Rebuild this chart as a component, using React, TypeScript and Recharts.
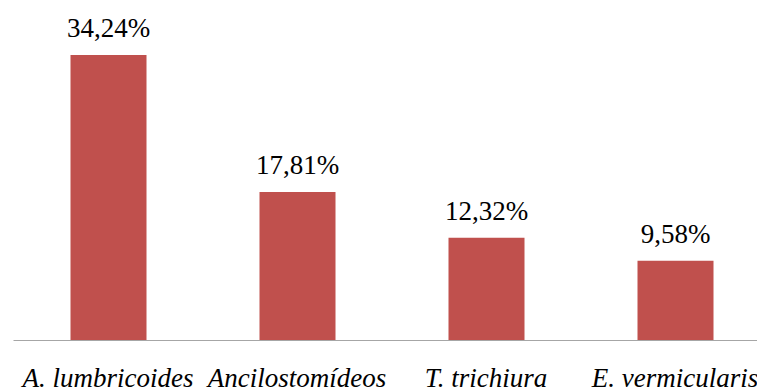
import { BarChart, Bar, XAxis, YAxis, LabelList } from "recharts";

const species = [
  "A. lumbricoides",
  "Ancilostomídeos",
  "T. trichiura",
  "E. vermicularis",
];
const prevalence = [34.24, 17.81, 12.32, 9.58];

const data = species.map((name, i) => ({ name, value: prevalence[i] }));

const BAR_COLOR = "#C0504D";
const FONT = "'Liberation Serif', 'Times New Roman', serif";

const formatPct = (v: unknown) =>
  typeof v === "number" ? `${v.toFixed(2).replace(".", ",")}%` : "";

// category names sit well below the axis line, in italics
function SpeciesTick({ x, y, payload }: any) {
  return (
    <text
      x={x}
      y={y + 46.5}
      textAnchor="middle"
      fill="#000"
      style={{ fontFamily: FONT, fontStyle: "italic", fontSize: 27 }}
    >
      {payload.value}
    </text>
  );
}

function ValueLabel({ x, y, width, value }: any) {
  return (
    <text
      x={x + width / 2}
      y={y - 18}
      textAnchor="middle"
      fill="#000"
      style={{ fontFamily: FONT, fontSize: 27 }}
    >
      {formatPct(value)}
    </text>
  );
}

export default function App() {
  return (
    <div
      style={{
        position: "absolute",
        left: 0,
        top: 0,
        width: 757,
        height: 392,
        overflow: "hidden",
        background: "#fff",
      }}
    >
      <BarChart
        width={770}
        height={392}
        data={data}
        margin={{ top: 7, right: 0.5, bottom: 21.5, left: 13.5 }}
        barSize={76}
      >
        <XAxis
          dataKey="name"
          axisLine={{ stroke: "#A6A6A6", strokeWidth: 1 }}
          tickLine={false}
          tickSize={0}
          tickMargin={0}
          height={30}
          interval={0}
          tick={<SpeciesTick />}
        />
        <YAxis hide domain={[0, 40]} />
        <Bar dataKey="value" fill={BAR_COLOR} isAnimationActive={false}>
          <LabelList dataKey="value" content={<ValueLabel />} />
        </Bar>
      </BarChart>
    </div>
  );
}
